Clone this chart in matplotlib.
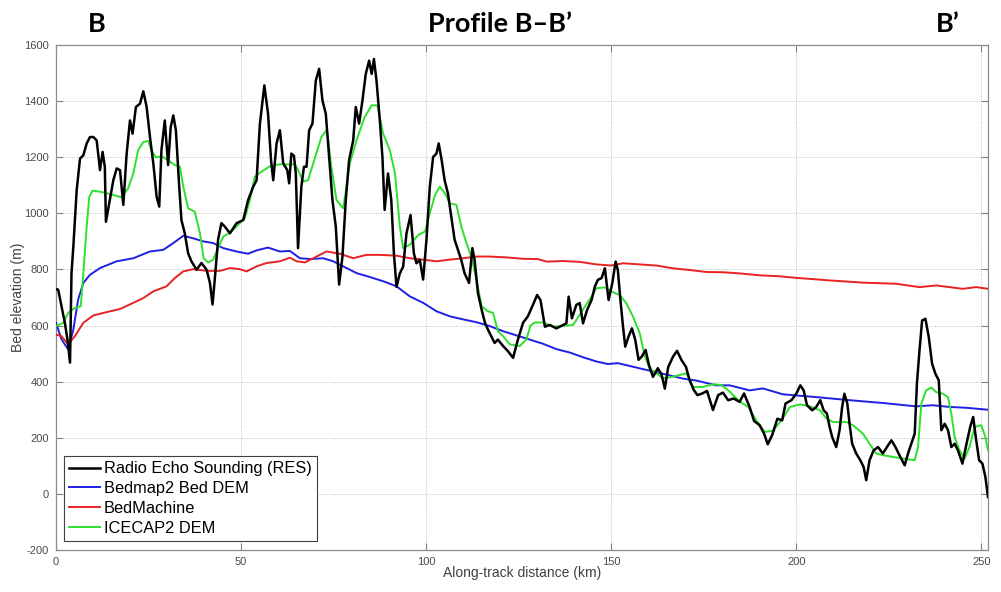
import numpy as np
import matplotlib
matplotlib.use("Agg")
import matplotlib.pyplot as plt

# along-track profile B-B' (km, m)
res_km = [0.0, 0.6, 1.5, 2.4, 3.1, 3.8, 4.2, 4.7, 5.6, 6.5, 7.4, 8.3, 9.2, 10.1, 11.0, 11.9,
          12.6, 13.2, 13.5, 14.4, 15.5, 16.4, 17.3, 18.2, 19.1, 20.0, 20.7, 21.6, 22.7, 23.6,
          24.5, 25.4, 26.3, 27.2, 27.9, 28.5, 29.4, 30.3, 31.0, 31.7, 32.4, 33.3, 33.9, 34.8,
          35.7, 36.6, 38.0, 39.3, 40.7, 41.6, 42.3, 42.9, 43.8, 44.7, 45.6, 47.0, 48.8, 50.6,
          51.9, 53.3, 54.2, 55.1, 56.3, 57.3, 58.1, 58.7, 59.6, 60.5, 61.4, 62.5, 63.0, 63.6,
          64.3, 64.8, 65.4, 66.3, 67.0, 67.7, 68.4, 69.3, 70.2, 71.1, 72.0, 72.9, 73.8, 74.7,
          75.6, 76.5, 77.4, 78.3, 79.2, 80.3, 81.0, 81.9, 82.8, 83.7, 84.6, 85.3, 85.9, 86.6,
          87.5, 88.2, 88.8, 89.7, 90.6, 91.3, 92.0, 92.9, 93.8, 94.7, 95.8, 96.7, 97.4, 98.3,
          99.2, 100.1, 101.0, 101.9, 102.8, 103.4, 104.2, 105.0, 105.9, 106.8, 107.7, 108.6,
          109.5, 110.4, 111.6, 112.5, 113.1, 114.0, 115.0, 115.9, 116.7, 117.6, 118.5, 119.4,
          120.8, 122.1, 123.5, 124.8, 126.2, 127.5, 128.9, 130.0, 130.9, 132.1, 133.4, 135.2,
          137.0, 137.9, 138.5, 139.4, 140.6, 141.5, 142.4, 143.5, 144.7, 145.6, 146.4, 147.4,
          148.3, 149.3, 150.3, 151.2, 151.8, 152.5, 153.2, 153.8, 154.7, 155.6, 156.5, 157.4,
          158.3, 159.3, 160.2, 161.3, 162.6, 163.6, 164.5, 165.4, 166.7, 167.8, 169.0, 170.2,
          171.2, 172.3, 173.3, 174.6, 175.9, 177.5, 178.9, 180.2, 181.6, 183.1, 184.7, 185.9,
          187.4, 188.6, 190.1, 191.3, 192.3, 193.5, 194.9, 196.2, 197.1, 198.7, 200.0, 201.1,
          202.0, 202.9, 204.3, 205.4, 206.5, 207.4, 208.3, 209.0, 209.7, 210.8, 211.7, 212.4,
          213.0, 213.8, 214.4, 215.1, 216.2, 217.3, 218.2, 218.9, 219.8, 220.9, 222.1, 223.4,
          224.5, 225.7, 226.8, 228.1, 229.3, 230.2, 231.1, 232.0, 232.6, 233.3, 234.0, 234.9,
          235.8, 236.7, 237.6, 238.5, 239.2, 240.1, 241.0, 241.9, 242.8, 243.7, 244.9, 246.0,
          247.0, 247.8, 248.5, 249.4, 250.3, 251.1, 251.8]
res_m = [730, 728, 669, 610, 551, 468, 787, 882, 1083, 1195, 1207, 1249, 1272, 1272, 1260, 1154,
         1219, 1166, 970, 1036, 1118, 1160, 1154, 1030, 1213, 1331, 1284, 1379, 1391, 1435,
         1379, 1272, 1178, 1059, 1024, 1225, 1331, 1172, 1307, 1349, 1296, 1095, 976, 929,
         858, 829, 799, 823, 799, 752, 675, 764, 906, 965, 953, 929, 965, 976,
         1047, 1095, 1118, 1319, 1456, 1355, 1190, 1118, 1249, 1296, 1178, 1154, 1107, 1213,
         1205, 1142, 876, 1095, 1166, 1166, 1296, 1320, 1473, 1515, 1402, 1355, 1201, 1047,
         953, 746, 846, 1047, 1190, 1260, 1379, 1320, 1402, 1497, 1544, 1497, 1550, 1473,
         1331, 1201, 1012, 1142, 1047, 857, 738, 786, 810, 929, 994, 857, 822, 834,
         764, 906, 1095, 1201, 1213, 1249, 1190, 1118, 1071, 988, 906, 870,
         834, 786, 752, 876, 834, 716, 657, 610, 586, 562, 538, 550,
         527, 509, 485, 550, 610, 633, 675, 709, 691, 596, 602, 590,
         602, 608, 703, 626, 674, 680, 608, 656, 691, 739, 763, 769,
         804, 691, 751, 828, 798, 691, 596, 525, 561, 590, 549, 478,
         490, 513, 460, 417, 448, 426, 375, 452, 489, 510, 477, 453,
         405, 371, 352, 358, 367, 299, 352, 361, 334, 340, 328, 358,
         310, 260, 245, 215, 177, 210, 268, 262, 322, 334, 357, 387,
         369, 316, 298, 310, 334, 298, 286, 239, 203, 167, 227, 310,
         357, 322, 250, 179, 144, 120, 96, 49, 120, 155, 167, 144,
         167, 191, 167, 132, 102, 144, 179, 215, 393, 512, 618, 624,
         559, 464, 428, 405, 227, 250, 227, 167, 179, 155, 108, 179,
         239, 274, 203, 120, 108, 60, -11]

bedmap_km = [0.0, 1.5, 3.3, 4.7, 6.0, 7.4, 9.2, 11.9, 16.4, 20.9, 25.4, 29.0, 31.7, 34.4,
             37.1, 39.8, 42.5, 45.2, 48.8, 51.9, 54.2, 57.3, 60.5, 63.2, 65.9, 68.6, 72.2,
             74.9, 77.6, 81.2, 84.8, 88.4, 92.0, 95.6, 99.2, 102.8, 106.4, 110.0, 113.6,
             117.2, 120.8, 124.4, 128.0, 131.6, 135.2, 138.8, 142.4, 146.0, 149.1, 151.8,
             155.0, 159.5, 164.0, 169.4, 173.0, 178.4, 182.0, 187.4, 191.0, 196.4, 205.4,
             214.4, 223.4, 232.4, 236.9, 241.4, 245.9, 251.8]
bedmap_m = [610, 551, 515, 586, 693, 752, 781, 805, 829, 840, 864, 870, 894, 920,
            911, 900, 894, 876, 864, 856, 868, 878, 864, 866, 840, 837, 840,
            829, 811, 787, 773, 758, 740, 704, 681, 651, 633, 622, 612,
            598, 580, 565, 550, 535, 516, 504, 487, 472, 463, 466,
            456, 442, 428, 411, 404, 387, 387, 369, 376, 355, 345,
            334, 324, 312, 316, 310, 307, 300]

bedmachine_km = [0.0, 1.5, 3.3, 5.1, 7.4, 10.1, 13.7, 17.3, 20.9, 23.6, 26.3, 29.9, 32.1,
                 34.4, 37.1, 40.7, 44.3, 47.0, 49.7, 51.5, 54.2, 56.9, 60.5, 63.2, 65.0,
                 67.3, 70.4, 73.1, 76.7, 80.3, 83.9, 87.5, 92.0, 95.6, 99.2, 102.8, 106.4,
                 110.0, 113.6, 117.2, 121.7, 126.2, 130.2, 132.5, 137.0, 141.5, 146.0, 149.9,
                 153.2, 157.7, 162.2, 166.7, 171.2, 175.7, 180.2, 184.7, 190.1, 195.1, 200.0,
                 209.0, 218.0, 227.0, 233.3, 237.8, 241.4, 245.0, 248.6, 251.8]
bedmachine_m = [568, 562, 533, 562, 610, 636, 648, 659, 681, 698, 722, 740, 769,
                793, 801, 795, 795, 805, 801, 793, 811, 823, 829, 842, 829,
                825, 846, 864, 856, 840, 852, 852, 849, 840, 835, 829, 835,
                840, 846, 846, 843, 838, 837, 828, 830, 827, 818, 814,
                822, 818, 814, 804, 798, 791, 790, 786, 779, 776, 770,
                761, 753, 749, 737, 743, 737, 731, 737, 731]

icecap_km = [0.0, 2.0, 3.3, 5.1, 6.7, 7.4, 8.3, 9.0, 9.9, 11.9, 14.6, 17.7, 19.5, 20.9, 22.2,
             23.6, 24.9, 25.8, 27.0, 28.5, 30.3, 32.1, 33.5, 34.4, 35.7, 37.5, 38.9, 39.9,
             41.1, 42.5, 43.8, 45.2, 47.4, 49.2, 51.0, 52.4, 53.7, 55.5, 57.8, 60.5, 62.7,
             64.5, 65.2, 66.8, 68.1, 69.9, 71.7, 73.2, 74.4, 75.8, 77.6, 79.4, 81.2, 83.4,
             85.3, 86.8, 88.4, 90.2, 91.6, 92.9, 93.8, 95.6, 97.9, 99.7, 101.0, 102.4, 103.7,
             105.1, 106.4, 108.2, 109.5, 110.9, 112.2, 113.6, 115.0, 116.7, 118.1, 119.4,
             120.8, 122.6, 125.3, 127.1, 128.2, 129.4, 131.6, 134.3, 137.0, 139.7, 141.5,
             142.9, 144.7, 146.0, 148.3, 150.1, 152.3, 154.1, 155.9, 157.7, 159.1, 160.4,
             162.2, 164.0, 166.8, 170.3, 172.1, 174.8, 177.5, 179.8, 182.0, 184.5, 187.0,
             189.2, 191.5, 193.7, 196.0, 198.3, 201.0, 203.7, 206.4, 208.2, 210.0, 213.6,
             215.4, 218.0, 219.8, 221.6, 223.4, 226.1, 228.8, 232.0, 232.9, 233.8, 235.1,
             236.5, 237.8, 239.6, 241.0, 241.9, 242.8, 244.1, 245.5, 246.8, 248.2, 250.0,
             251.1, 251.8]
icecap_m = [598, 610, 645, 663, 669, 787, 953, 1059, 1081, 1077, 1069, 1057, 1089, 1142, 1225,
            1254, 1258, 1225, 1199, 1204, 1189, 1172, 1166, 1095, 1018, 1006, 929, 840,
            825, 835, 876, 917, 935, 959, 982, 1047, 1130, 1148, 1168, 1175, 1174,
            1175, 1160, 1113, 1118, 1195, 1272, 1298, 1166, 1047, 1018, 1178, 1260, 1343,
            1385, 1385, 1284, 1225, 1142, 953, 876, 888, 923, 935, 1000, 1065, 1095,
            1071, 1036, 1030, 953, 894, 846, 764, 669, 651, 645, 580,
            562, 533, 527, 551, 600, 611, 611, 596, 599, 602, 638,
            668, 703, 733, 736, 721, 709, 679, 632, 573, 490, 446,
            430, 412, 418, 430, 381, 381, 391, 388, 365, 332, 310,
            262, 221, 225, 262, 310, 319, 312, 298, 268, 256, 256,
            244, 215, 179, 144, 138, 132, 126, 120, 167, 322, 369,
            379, 363, 357, 345, 286, 203, 155, 126, 167, 239, 245,
            203, 155]

plt.rcParams["font.family"] = ["Liberation Sans", "DejaVu Sans"]
plt.rcParams["axes.unicode_minus"] = False

fig = plt.figure(figsize=(10.01, 5.92), dpi=100)
ax = fig.add_axes([0.0559, 0.0709, 0.9311, 0.8531])

ax.plot(res_km, res_m, color="black", lw=1.8, label="Radio Echo Sounding (RES)", zorder=5)
ax.plot(bedmap_km, bedmap_m, color="#1f1fe6", lw=1.4, label="Bedmap2 Bed DEM", zorder=3)
ax.plot(bedmachine_km, bedmachine_m, color="#e62222", lw=1.4, label="BedMachine", zorder=3)
ax.plot(icecap_km, icecap_m, color="#2ee02e", lw=1.4, label="ICECAP2 DEM", zorder=4)

ax.set_xlim(0, 251.8)
ax.set_ylim(-200, 1600)
ax.set_xticks([0, 50, 100, 150, 200, 250])
ax.set_yticks(np.arange(-200, 1601, 200))
ax.grid(True, ls=":", color="#bdbdbd", lw=0.7)
ax.tick_params(direction="in", length=5, width=0.8, colors="#808080",
               labelcolor="#4a4a4a", labelsize=8, top=True, right=True, pad=5)
for sp in ax.spines.values():
    sp.set_color("#8c8c8c")
    sp.set_linewidth(0.9)

ax.set_xlabel("Along-track distance (km)", fontsize=10, color="#404040")
ax.set_ylabel("Bed elevation (m)", fontsize=10, color="#404040")
ax.xaxis.set_label_coords(0.5, -0.032)
ax.yaxis.set_label_coords(-0.033, 0.5)

leg = ax.legend(loc="lower left", bbox_to_anchor=(0.0086, 0.018), borderaxespad=0,
                fontsize=11.8, fancybox=False, framealpha=1, edgecolor="#404040",
                handlelength=1.9, handletextpad=0.25, labelspacing=0.3, borderpad=0.3)
leg.get_frame().set_linewidth(0.8)

title_font = ["Lato", "DejaVu Sans"]
fig.text(97 / 1001, 1 - 24 / 592, "B", ha="center", va="center", fontsize=19.5,
         fontweight="bold", family=title_font)
fig.text(500 / 1001, 1 - 24 / 592, "Profile B\u2013B\u2019", ha="center", va="center",
         fontsize=19.5, fontweight="bold", family=title_font)
fig.text(948 / 1001, 1 - 24 / 592, "B\u2019", ha="center", va="center", fontsize=19.5,
         fontweight="bold", family=title_font)

fig.savefig("out.png", dpi=100)
